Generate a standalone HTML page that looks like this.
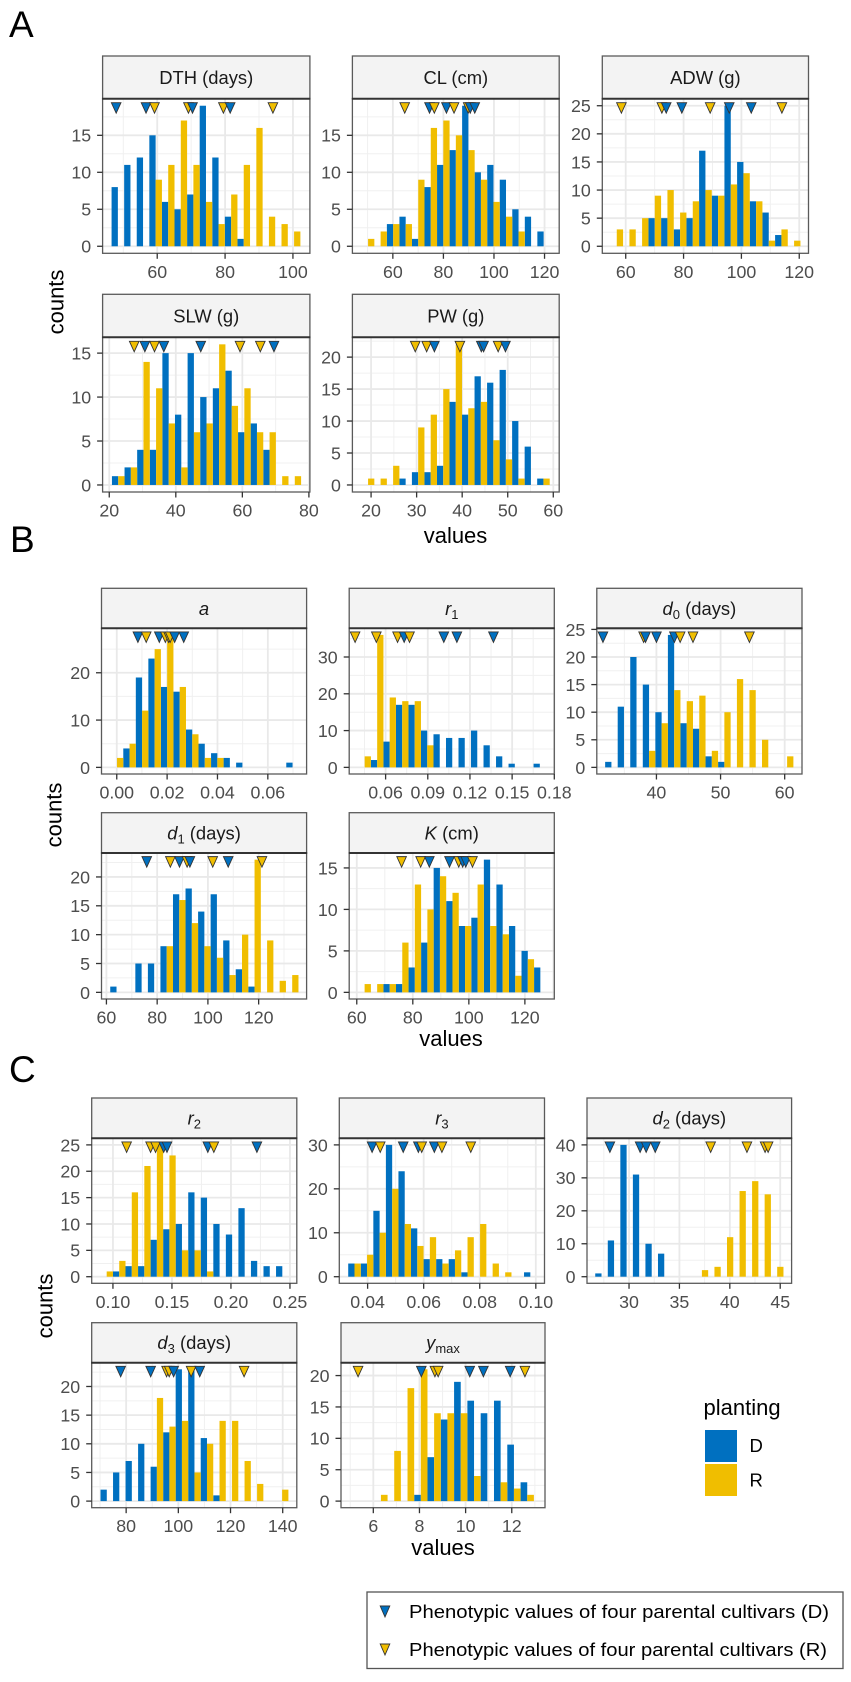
<!DOCTYPE html>
<html lang="en">
<head>
<meta charset="utf-8">
<title>Histograms of phenotypic traits by planting</title>
<style>
html,body{margin:0;padding:0;background:#fff;}
svg{display:block;font-family:"Liberation Sans",sans-serif;}
.tick{font-size:17.8px;fill:#4d4d4d;}
.strip{font-size:18.4px;fill:#1a1a1a;}
.axt{font-size:22px;fill:#000;}
.letter{font-size:37px;fill:#000;}
.note{font-size:18.5px;fill:#000;}
</style>
</head>
<body>
<svg id="chart" width="851" height="1682" viewBox="0 0 851 1682" xmlns="http://www.w3.org/2000/svg">
  <rect x="0" y="0" width="851" height="1682" fill="#fff"/>
  <text class="letter" x="9" y="37">A</text>
  <text class="letter" x="10" y="552">B</text>
  <text class="letter" x="9" y="1082">C</text>

  <text class="axt" transform="translate(63.5,302) rotate(-90)" text-anchor="middle">counts</text>
  <text class="axt" transform="translate(61.5,815) rotate(-90)" text-anchor="middle">counts</text>
  <text class="axt" transform="translate(52.5,1306) rotate(-90)" text-anchor="middle">counts</text>
  <text class="axt" x="455.5" y="543" text-anchor="middle">values</text>
  <text class="axt" x="451" y="1046" text-anchor="middle">values</text>
  <text class="axt" x="443" y="1555" text-anchor="middle">values</text>

  <g>
    <text class="axt" x="703.5" y="1415">planting</text>
    <rect x="705" y="1430" width="32" height="32" fill="#0070C0"/>
    <rect x="705" y="1464" width="32" height="32" fill="#F0BE00"/>
    <text x="749.5" y="1452" font-size="18.5" fill="#000">D</text>
    <text x="749.5" y="1486.5" font-size="18.5" fill="#000">R</text>
  </g>

  <g>
    <rect x="367" y="1592" width="476" height="76.5" fill="#fff" stroke="#555" stroke-width="1.3"/>
    <polygon points="380.2,1606 389.8,1606 385,1617" fill="#0070C0" stroke="#333" stroke-width="0.9"/>
    <text class="note" x="409" y="1618" textLength="420" lengthAdjust="spacingAndGlyphs">Phenotypic values of four parental cultivars (D)</text>
    <polygon points="380.2,1644 389.8,1644 385,1655" fill="#F0BE00" stroke="#333" stroke-width="0.9"/>
    <text class="note" x="409" y="1656" textLength="418" lengthAdjust="spacingAndGlyphs">Phenotypic values of four parental cultivars (R)</text>
  </g>

  <g id="panels"></g>
</svg>

<script>
// ---------- DATA: counts per histogram bin, parental marker values, tick labels ----------
const dthD = [8,11,12,15,6,5,7,19,12,4,1,0,0,0,0];
const dthR = [0,0,0,9,11,17,11,6,3,7,11,16,4,3,2];
const dthMarkD = [47.9,56.7,70.4,81.5];
const dthMarkR = [59.2,69.2,79.5,94.1];
const dthXTicks = ['60','80','100'];
const dthYTicks = ['0','5','10','15'];

const clD = [0,0,3,4,1,8,11,13,19,10,11,9,5,4,2];
const clR = [1,2,3,3,9,16,17,15,13,9,6,4,2,0,0];
const clMarkD = [74.5,81.2,90.6,92.4];
const clMarkR = [64.7,76.4,84.2,89.8];
const clXTicks = ['60','80','100','120'];
const clYTicks = ['0','5','10','15'];

const adwD = [0,0,0,5,5,3,5,17,9,25,15,8,6,2,0];
const adwR = [3,3,5,9,10,6,8,10,9,11,13,8,1,3,1];
const adwMarkD = [74,79.4,95.8,103.4];
const adwMarkR = [58.5,72.5,89.2,114];
const adwXTicks = ['60','80','100','120'];
const adwYTicks = ['0','5','10','15','20','25'];

const slwD = [1,2,4,4,15,8,15,10,11,13,6,7,4,0,0];
const slwR = [1,2,14,11,7,2,6,7,16,9,11,6,6,1,1];
const slwMarkD = [30.7,36.4,47.5,69.5];
const slwMarkR = [27.5,33.6,59.3,65.4];
const slwXTicks = ['20','40','60','80'];
const slwYTicks = ['0','5','10','15'];

const pwD = [0,0,0,1,2,2,3,13,11,17,16,18,10,6,1];
const pwR = [1,1,3,0,9,11,15,22,12,13,7,4,1,0,1];
const pwMarkD = [33.9,44.2,44.7,49.5];
const pwMarkR = [29.7,32.2,39.5,47.9];
const pwXTicks = ['20','30','40','50','60'];
const pwYTicks = ['0','5','10','15','20'];

const aD = [0,4,19,23,17,16,8,5,3,2,1,0,0,0,1];
const aR = [2,5,12,25,28,17,7,2,2,0,0,0,0,0,0];
const aMarkD = [0.0084,0.0169,0.023,0.0266];
const aMarkR = [0.0117,0.0193,0.0206,0.0212];
const aXTicks = ['0.00','0.02','0.04','0.06'];
const aYTicks = ['0','10','20'];

const r1D = [0,2,7,17,17,10,9,8,8,10,6,3,1,0,1];
const r1R = [3,36,19,18,18,6,0,0,0,0,0,0,0,0,0];
const r1MarkD = [0.0732,0.1014,0.1107,0.1367];
const r1MarkR = [0.0383,0.0534,0.0685,0.077];
const r1XTicks = ['0.06','0.09','0.12','0.15','0.18'];
const r1YTicks = ['0','10','20','30'];

const d0D = [1,11,20,15,10,24,8,7,2,1,0,0,0,0,0];
const d0R = [0,0,0,3,8,14,12,13,3,10,16,14,5,0,2];
const d0MarkD = [31.66,38.3,40,42.8];
const d0MarkR = [38,43.7,45.7,54.5];
const d0XTicks = ['40','50','60'];
const d0YTicks = ['0','5','10','15','20','25'];

const d1D = [1,0,5,5,8,17,18,14,17,9,4,1,0,0,0];
const d1R = [0,0,0,0,8,16,12,8,6,3,10,23,9,2,3];
const d1MarkD = [75.9,88.8,92.9,108];
const d1MarkR = [85.2,91.8,101.9,121.3];
const d1XTicks = ['60','80','100','120'];
const d1YTicks = ['0','5','10','15','20'];

const kD = [0,0,1,1,3,6,15,11,8,9,16,13,8,5,3];
const kR = [1,1,1,6,13,10,14,12,8,13,8,7,2,4,0];
const kMarkD = [85.9,93.1,97.8,98.9];
const kMarkR = [76,82.8,96.4,101.3];
const kXTicks = ['60','80','100','120'];
const kYTicks = ['0','5','10','15'];

const r2D = [0,1,2,2,7,9,10,16,15,10,8,13,3,2,2];
const r2R = [1,3,16,21,25,23,5,5,1,0,0,0,0,0,0];
const r2MarkD = [0.143,0.1458,0.1804,0.222];
const r2MarkR = [0.1116,0.1319,0.1361,0.1855];
const r2XTicks = ['0.10','0.15','0.20','0.25'];
const r2YTicks = ['0','5','10','15','20','25'];

const r3D = [3,3,15,30,24,11,4,4,4,1,0,0,0,0,1];
const r3R = [3,5,10,20,12,7,9,3,6,9,12,3,1,0,0];
const r3MarkD = [0.0416,0.0527,0.0581,0.0638];
const r3MarkR = [0.0445,0.0593,0.0665,0.0768];
const r3XTicks = ['0.04','0.06','0.08','0.10'];
const r3YTicks = ['0','10','20','30'];

const d2D = [1,11,40,31,10,7,0,0,0,0,0,0,0,0,0];
const d2R = [0,0,0,0,0,0,0,0,2,3,12,26,29,25,3];
const d2MarkD = [28.1,31.1,31.7,32.6];
const d2MarkR = [38.1,41.7,43.5,43.8];
const d2XTicks = ['30','35','40','45'];
const d2YTicks = ['0','10','20','30','40'];

const d3D = [2,5,7,10,6,12,23,23,11,1,0,0,0,0,0];
const d3R = [0,0,0,0,18,13,14,5,10,14,14,7,3,0,2];
const d3MarkD = [77.9,89.4,98.2,108.2];
const d3MarkR = [95.5,96.5,104.9,125.2];
const d3XTicks = ['80','100','120','140'];
const d3YTicks = ['0','5','10','15','20'];

const ymaxD = [0,0,0,1,7,13,19,16,14,16,9,3];
const ymaxR = [1,8,18,21,14,14,14,4,0,3,2,1];
const ymaxMarkD = [8.08,10.18,10.77,11.93];
const ymaxMarkR = [5.34,8.67,8.81,12.57];
const ymaxXTicks = ['6','8','10','12'];
const ymaxYTicks = ['0','5','10','15','20'];

// ---------- PANEL DEFINITIONS (layout kept separate from the data arrays) ----------
const colA = [[102.6,309.9],[352.4,559.2],[602.3,808.5]];
const colB = [[101.5,306.6],[349.2,554.3],[596.8,802]];
const colC = [[91.7,296.8],[339.3,544.5],[587,791.6]];
const colC2 = [[91.7,296.8],[341,545]];
const rowA1 = [56,98.7,253.3], rowA2 = [294.3,337.3,492];
const rowB1 = [588.3,628.3,774], rowB2 = [812.7,853,999];
const rowC1 = [1098,1138.3,1283.3], rowC2 = [1322.7,1362.7,1507.7];

const panels = [
 {key:'dth',title:[['t','DTH (days)']],col:colA[0],row:rowA1,xMin:43.9,xMax:105,binStart:48.4,binW:3.71,d:dthD,r:dthR,md:dthMarkD,mr:dthMarkR,xt:dthXTicks,yt:dthYTicks},
 {key:'cl',title:[['t','CL (cm)']],col:colA[1],row:rowA1,xMin:44,xMax:125.8,binStart:50.2,binW:4.96,d:clD,r:clR,md:clMarkD,mr:clMarkR,xt:clXTicks,yt:clYTicks},
 {key:'adw',title:[['t','ADW (g)']],col:colA[2],row:rowA1,xMin:51.9,xMax:123.2,binStart:56.9,binW:4.38,d:adwD,r:adwR,md:adwMarkD,mr:adwMarkR,xt:adwXTicks,yt:adwYTicks},
 {key:'slw',title:[['t','SLW (g)']],col:colA[0],row:rowA2,xMin:18,xMax:80.3,binStart:22.7,binW:3.79,d:slwD,r:slwR,md:slwMarkD,mr:slwMarkR,xt:slwXTicks,yt:slwYTicks},
 {key:'pw',title:[['t','PW (g)']],col:colA[1],row:rowA2,xMin:15.9,xMax:61.3,binStart:19.34,binW:2.75,d:pwD,r:pwR,md:pwMarkD,mr:pwMarkR,xt:pwXTicks,yt:pwYTicks},
 {key:'a',title:[['i','a']],col:colB[0],row:rowB1,xMin:-0.00606,xMax:0.0754,binStart:0.0001,binW:0.00498,d:aD,r:aR,md:aMarkD,mr:aMarkR,xt:aXTicks,yt:aYTicks},
 {key:'r1',title:[['i','r'],['s','1']],col:colB[1],row:rowB1,xMin:0.0341,xMax:0.18,binStart:0.0451,binW:0.0089,d:r1D,r:r1R,md:r1MarkD,mr:r1MarkR,xt:r1XTicks,yt:r1YTicks},
 {key:'d0',title:[['i','d'],['s','0'],['t',' (days)']],col:colB[2],row:rowB1,xMin:30.7,xMax:62.7,binStart:32.98,binW:1.957,d:d0D,r:d0R,md:d0MarkD,mr:d0MarkR,xt:d0XTicks,yt:d0YTicks},
 {key:'d1',title:[['i','d'],['s','1'],['t',' (days)']],col:colB[0],row:rowB2,xMin:58.06,xMax:138.9,binStart:63.98,binW:4.946,d:d1D,r:d1R,md:d1MarkD,mr:d1MarkR,xt:d1XTicks,yt:d1YTicks},
 {key:'k',title:[['i','K'],['t',' (cm)']],col:colB[1],row:rowB2,xMin:57.3,xMax:130.5,binStart:62.8,binW:4.48,d:kD,r:kR,md:kMarkD,mr:kMarkR,xt:kXTicks,yt:kYTicks},
 {key:'r2',title:[['i','r'],['s','2']],col:colC[0],row:rowC1,xMin:0.082,xMax:0.2558,binStart:0.0947,binW:0.01063,d:r2D,r:r2R,md:r2MarkD,mr:r2MarkR,xt:r2XTicks,yt:r2YTicks},
 {key:'r3',title:[['i','r'],['s','3']],col:colC[1],row:rowC1,xMin:0.0299,xMax:0.1031,binStart:0.03532,binW:0.00448,d:r3D,r:r3R,md:r3MarkD,mr:r3MarkR,xt:r3XTicks,yt:r3YTicks},
 {key:'d2',title:[['i','d'],['s','2'],['t',' (days)']],col:colC[2],row:rowC1,xMin:25.83,xMax:46.13,binStart:27.27,binW:1.245,d:d2D,r:d2R,md:d2MarkD,mr:d2MarkR,xt:d2XTicks,yt:d2YTicks},
 {key:'d3',title:[['i','d'],['s','3'],['t',' (days)']],col:colC2[0],row:rowC2,xMin:66.8,xMax:145.4,binStart:72.58,binW:4.8,d:d3D,r:d3R,md:d3MarkD,mr:d3MarkR,xt:d3XTicks,yt:d3YTicks},
 {key:'ymax',title:[['i','y'],['m','max']],col:colC2[1],row:rowC2,xMin:4.6,xMax:13.44,binStart:6.33,binW:0.5764,d:ymaxD,r:ymaxR,md:ymaxMarkD,mr:ymaxMarkR,xt:ymaxXTicks,yt:ymaxYTicks}
];

const BLUE = '#0070C0';
const YELLOW = '#F0BE00';
const NS = 'http://www.w3.org/2000/svg';
const root = document.getElementById('panels');

function mk(tag, attrs, parent){
  const e = document.createElementNS(NS, tag);
  for (const k in attrs) e.setAttribute(k, attrs[k]);
  parent.appendChild(e);
  return e;
}

function drawPanel(p){
  const x0 = p.col[0], x1 = p.col[1];
  const stripTop = p.row[0], top = p.row[1], bottom = p.row[2];
  const maxCount = Math.max(Math.max.apply(null, p.d), Math.max.apply(null, p.r));
  const yMin = -0.05 * maxCount, yMax = 1.05 * maxCount;
  const xScale = v => x0 + (v - p.xMin) / (p.xMax - p.xMin) * (x1 - x0);
  const yScale = v => bottom - (v - yMin) / (yMax - yMin) * (bottom - top);

  const g = mk('g', {}, root);
  
  

  // panel background
  const bg = mk('rect', {x:x0, y:top, width:x1-x0, height:bottom-top, fill:'#fff'}, g);
  
  

  // grid: minor lines midway between ticks, major at ticks
  const xv = p.xt.map(parseFloat), yv = p.yt.map(parseFloat);
  const xStep = xv[1] - xv[0], yStep = yv[1] - yv[0];
  for (let v = xv[0] - xStep / 2; v <= p.xMax; v += xStep){
    if (v < p.xMin) continue;
    const l = mk('line', {x1:xScale(v), x2:xScale(v), y1:top, y2:bottom, stroke:'#f0f0f0', 'stroke-width':1}, g);
    
    
  }
  for (let v = yv[0] - yStep / 2; v <= yMax; v += yStep){
    if (v < yMin) continue;
    const l = mk('line', {x1:x0, x2:x1, y1:yScale(v), y2:yScale(v), stroke:'#f0f0f0', 'stroke-width':1}, g);
    
    
  }
  xv.forEach(v => {
    const l = mk('line', {x1:xScale(v), x2:xScale(v), y1:top, y2:bottom, stroke:'#e9e9e9', 'stroke-width':1.8}, g);
    
    
  });
  yv.forEach(v => {
    const l = mk('line', {x1:x0, x2:x1, y1:yScale(v), y2:yScale(v), stroke:'#e9e9e9', 'stroke-width':1.8}, g);
    
    
  });

  // dodged histogram bars
  const halfPx = xScale(p.binW / 2) - xScale(0);
  p.d.forEach((c, i) => {
    if (!c) return;
    const cx = xScale(p.binStart + i * p.binW);
    const b = mk('rect', {x:cx - halfPx, y:yScale(c), width:halfPx, height:yScale(0) - yScale(c), fill:BLUE}, g);
    
    
  });
  p.r.forEach((c, i) => {
    if (!c) return;
    const cx = xScale(p.binStart + i * p.binW);
    const b = mk('rect', {x:cx, y:yScale(c), width:halfPx, height:yScale(0) - yScale(c), fill:YELLOW}, g);
    
    
  });

  // parental cultivar markers, drawn left to right so later ones overlap earlier ones
  const marks = p.md.map(v => ({v:v, s:'d'})).concat(p.mr.map(v => ({v:v, s:'r'})));
  marks.sort((m, n) => m.v - n.v);
  const my = yScale(maxCount);
  marks.forEach((m, i) => {
    const mx = xScale(m.v);
    const pts = (mx - 4.8) + ',' + (my - 3) + ' ' + (mx + 4.8) + ',' + (my - 3) + ' ' + mx + ',' + (my + 7.5);
    const t = mk('polygon', {points:pts, fill:m.s === 'd' ? BLUE : YELLOW, stroke:'#333', 'stroke-width':0.9}, g);
    
    
  });

  // border and strip
  const border = mk('rect', {x:x0, y:top, width:x1-x0, height:bottom-top, fill:'none', stroke:'#5a5a5a', 'stroke-width':1.3}, g);
  
  
  const strip = mk('rect', {x:x0, y:stripTop, width:x1-x0, height:top-stripTop, fill:'#f3f3f3', stroke:'#5a5a5a', 'stroke-width':1.3}, g);
  
  
  const rule = mk('line', {x1:x0-0.5, x2:x1+0.5, y1:top, y2:top, stroke:'#333', 'stroke-width':2}, g);
  
  

  // strip title with italics and subscripts
  const title = mk('text', {x:(x0+x1)/2, y:(stripTop+top)/2 + 6.5, 'text-anchor':'middle'}, g);
  title.setAttribute('class', 'strip');
  
  
  let shifted = 0;
  p.title.forEach(part => {
    const kind = part[0];
    const ts = mk('tspan', {}, title);
    ts.setAttribute('xml:space', 'preserve');
    ts.textContent = part[1];
    if (kind === 'i') ts.setAttribute('font-style', 'italic');
    if (kind === 's' || kind === 'm'){
      ts.setAttribute('font-size', '13');
      ts.setAttribute('dy', '4');
      shifted = 4;
    } else if (shifted){
      ts.setAttribute('dy', String(-shifted));
      shifted = 0;
    }
  });

  // axes: ticks and tick labels
  p.xt.forEach((lab, i) => {
    const x = xScale(xv[i]);
    const t = mk('line', {x1:x, x2:x, y1:bottom, y2:bottom + 5.5, stroke:'#333', 'stroke-width':1.3}, g);
    
    
    const tx = mk('text', {x:x, y:bottom + 24.5, 'text-anchor':'middle'}, g);
    tx.setAttribute('class', 'tick');
    
    
    tx.textContent = lab;
  });
  p.yt.forEach((lab, i) => {
    const y = yScale(yv[i]);
    const t = mk('line', {x1:x0 - 5.5, x2:x0, y1:y, y2:y, stroke:'#333', 'stroke-width':1.3}, g);
    
    
    const tx = mk('text', {x:x0 - 11.5, y:y + 6.4, 'text-anchor':'end'}, g);
    tx.setAttribute('class', 'tick');
    
    
    tx.textContent = lab;
  });
}

panels.forEach(drawPanel);
</script>
</body>
</html>
